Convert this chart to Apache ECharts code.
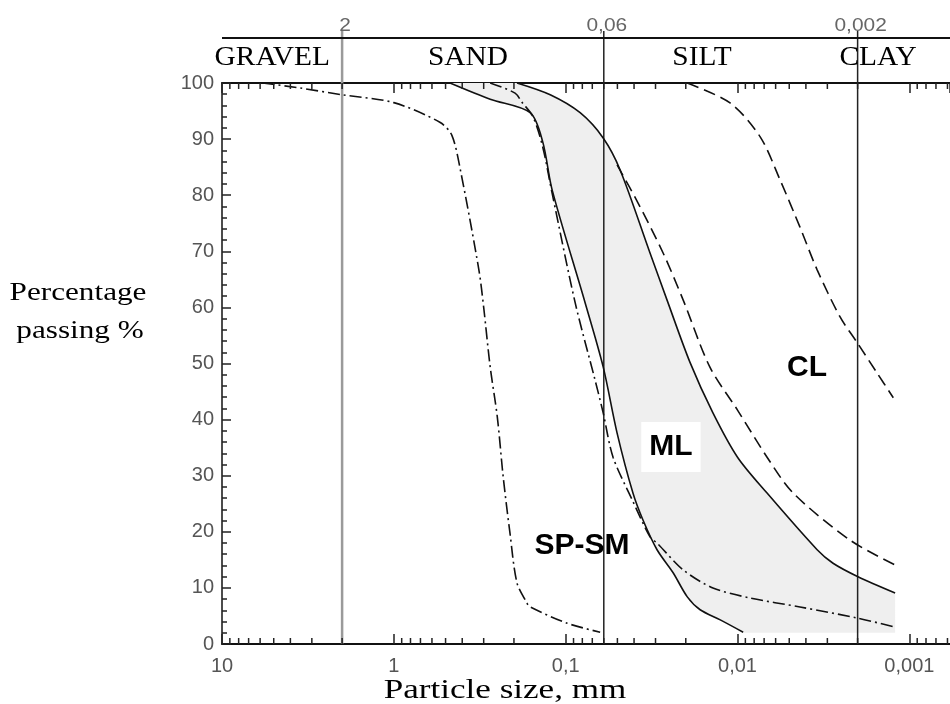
<!DOCTYPE html>
<html>
<head>
<meta charset="utf-8">
<title>Grading curves</title>
<script src="https://cdn.jsdelivr.net/npm/echarts@6/dist/echarts.min.js"></script>
<style>
  html, body { margin: 0; padding: 0; background: #fff; }
  #main { width: 950px; height: 704px; }
</style>
</head>
<body>
<div id="main"></div>
<script>
// particle size (mm) against percentage passing
var gravellySand = [[5.8,100],[3.5,99.1],[2,97.9],[1,96.5],[0.54,93],[0.46,90.7],[0.41,84.5],[0.32,66.7],[0.30,60],[0.275,49.4],[0.25,40.5],[0.231,29.8],[0.211,19.8],[0.192,10.9],[0.168,7.3],[0.161,6.6],[0.098,3.7],[0.063,2.1]];
var spSm = [[0.275,100],[0.197,98.2],[0.18,96.6],[0.155,94],[0.136,88.6],[0.12,80.4],[0.088,60.8],[0.0675,47.1],[0.0605,41.2],[0.053,33.3],[0.041,25.7],[0.0323,19.1],[0.0294,18],[0.0207,13.2],[0.0139,10],[0.00845,8.2],[0.00433,6.6],[0.00199,4.6],[0.00121,3.0]];
var mlLower = [[0.471,100],[0.275,97.1],[0.161,94.7],[0.136,89.5],[0.12,81],[0.077,60.8],[0.0605,49.4],[0.0502,37.6],[0.0406,26.9],[0.0355,22.1],[0.0294,16.8],[0.0237,12.7],[0.0196,8.4],[0.0165,6.1],[0.0126,4.3],[0.00927,2.1]];
var mlUpper = [[0.192,100],[0.123,97.9],[0.0824,94.7],[0.0605,90.2],[0.0482,84.5],[0.0323,69.7],[0.0257,61.3],[0.0189,50.2],[0.0139,41.2],[0.01,33.3],[0.00673,26.9],[0.00344,16.8],[0.00278,14.4],[0.00199,12],[0.00121,9.1]];
var mlDashed = [[0.0502,85.4],[0.0379,78.6],[0.0271,69.7],[0.0207,61.3],[0.0145,49.4],[0.01,41.7],[0.00673,33.3],[0.00474,26.9],[0.00221,18.5],[0.00121,14.1]];
var clDashed = [[0.0196,100],[0.011,96.4],[0.00738,90.4],[0.00565,82.7],[0.00433,74.3],[0.00344,66.7],[0.00253,58.3],[0.00201,53.7],[0.00154,48.3],[0.00124,43.9]];
// bottom edge of the shaded ML band
var bandBottom = [[0.00121,2],[0.00927,2]];

// size classes on top
var boundaryValues = [2, 0.06, 0.002];
var boundaryLabels = ['2', '0,06', '0,002'];
var zoneNames = ['GRAVEL', 'SAND', 'SILT', 'CLAY'];
var zoneLabelAt = [5.1, 0.37, 0.0161, 0.00152];

// curve names inside the plot
var soilNames = ['ML', 'CL', 'SP-SM'];
var soilAt = [[0.0244,35.1],[0.00394,49.2],[0.0804,17.6]];

var xMin = 0.00058, xMax = 10;
var minorMultipliers = [2,3,4,5,6,7,8,9];
var decades = [0.0001, 0.001, 0.01, 0.1, 1];

var serif = '"Liberation Serif", "Times New Roman", serif';
var sans = '"Liberation Sans", Arial, sans-serif';

function sizeLabel(v) {
    var lg = Math.log(v) / Math.LN10;
    var r = Math.round(lg);
    if (Math.abs(lg - r) > 1e-6) return '';
    if (r >= 0) return String(Math.round(v));
    return v.toFixed(-r).replace('.', ',');
}

var minorTicks = [];
decades.forEach(function (d) {
    minorMultipliers.forEach(function (m) {
        var v = m * d;
        if (v > xMin && v < xMax) minorTicks.push([v, 0]);
    });
});

function curve(name, data, type) {
    return {
        name: name,
        type: 'line',
        data: data,
        symbol: 'none',
        smooth: 0.3,
        z: 3,
        silent: true,
        lineStyle: { color: '#111', width: 1.6, type: type }
    };
}

var chart = echarts.init(document.getElementById('main'));
var option = {
    animation: false,
    backgroundColor: '#fff',
    grid: { left: 222, right: 0, top: 83, bottom: 60 },
    xAxis: [{
        type: 'log',
        inverse: true,
        min: xMin,
        max: xMax,
        axisLine: { lineStyle: { color: '#111', width: 2 } },
        axisTick: { inside: true, length: 10, lineStyle: { color: '#222', width: 1.5 } },
        axisLabel: {
            formatter: sizeLabel, showMinLabel: false,
            fontFamily: sans, fontSize: 20, color: '#555', margin: 12
        },
        splitLine: { show: false }
    }, {
        type: 'log',
        inverse: true,
        position: 'top',
        min: xMin,
        max: xMax,
        axisLine: { lineStyle: { color: '#111', width: 2 } },
        axisTick: { inside: true, length: 10, lineStyle: { color: '#222', width: 1.5 } },
        axisLabel: { show: false },
        splitLine: { show: false }
    }],
    yAxis: {
        type: 'value',
        min: 0,
        max: 100,
        interval: 10,
        axisLine: { show: true, lineStyle: { color: '#111', width: 1.5 } },
        axisTick: { inside: true, length: 9, lineStyle: { color: '#222', width: 1.5 } },
        minorTick: { show: true, splitNumber: 5, length: 5, lineStyle: { color: '#222', width: 1.5 } },
        axisLabel: { fontFamily: sans, fontSize: 20, color: '#555', margin: 8 },
        splitLine: { show: false }
    },
    series: [
        {
            // shaded ML band; corner points doubled so they stay sharp
            type: 'custom',
            silent: true,
            z: 1,
            data: [[mlUpper[0][0], 100]],
            renderItem: function (params, api) {
                var pts = [];
                function add(list) {
                    list.forEach(function (p, i) {
                        var c = api.coord(p);
                        pts.push(c);
                        if (i === 0 || i === list.length - 1) pts.push(c);
                    });
                }
                add(mlUpper);
                add(bandBottom);
                add(mlLower.slice().reverse());
                return { type: 'polygon', shape: { points: pts, smooth: 0.3 }, style: { fill: '#efefef' } };
            }
        },
        {
            // minor log ticks, bottom and top
            type: 'custom',
            silent: true,
            z: 4,
            data: minorTicks,
            renderItem: function (params, api) {
                var b = api.coord([api.value(0), 0]);
                var t = api.coord([api.value(0), 100]);
                var st = { stroke: '#222', lineWidth: 1.5 };
                return { type: 'group', children: [
                    { type: 'line', shape: { x1: b[0], y1: b[1], x2: b[0], y2: b[1] - 6 }, style: st },
                    { type: 'line', shape: { x1: t[0], y1: t[1], x2: t[0], y2: t[1] + 6 }, style: st }
                ] };
            }
        },
        {
            // size class boundaries
            type: 'custom',
            silent: true,
            clip: false,
            z: 2,
            data: boundaryValues.map(function (v) { return [v, 0]; }),
            renderItem: function (params, api) {
                var i = params.dataIndex;
                var t = api.coord([api.value(0), 100]);
                var b = api.coord([api.value(0), 0]);
                return { type: 'group', children: [
                    { type: 'line', shape: { x1: t[0], y1: t[1] - 52, x2: b[0], y2: b[1] },
                      style: { stroke: i === 0 ? '#9a9a9a' : '#222', lineWidth: i === 0 ? 2.5 : 1.5 } },
                    { type: 'text', x: t[0] + 3, y: t[1] - 57, scaleX: 1.1,
                      style: { text: boundaryLabels[i], font: '19px ' + sans, fill: '#666',
                               align: 'center', verticalAlign: 'middle', textAlign: 'center', textVerticalAlign: 'middle' } }
                ] };
            }
        },
        {
            // size class names and top rule
            type: 'custom',
            silent: true,
            clip: false,
            z: 2,
            data: zoneLabelAt.map(function (v) { return [v, 100]; }),
            renderItem: function (params, api) {
                var p = api.coord([api.value(0), 100]);
                var kids = [
                    { type: 'text', x: p[0], y: p[1] - 25, scaleX: 1.05,
                      style: { text: zoneNames[params.dataIndex], font: '28px ' + serif, fill: '#000',
                               align: 'center', verticalAlign: 'middle', textAlign: 'center', textVerticalAlign: 'middle' } }
                ];
                if (params.dataIndex === 0) {
                    var a = api.coord([xMax, 100]);
                    var c = api.coord([xMin, 100]);
                    kids.push({ type: 'line', shape: { x1: a[0], y1: a[1] - 45, x2: c[0], y2: c[1] - 45 },
                                style: { stroke: '#111', lineWidth: 2 } });
                }
                return { type: 'group', children: kids };
            }
        },
        curve('gravelly sand', gravellySand, [12, 4, 2, 4]),
        curve('SP-SM', spSm, [12, 4, 2, 4]),
        curve('ML lower', mlLower, 'solid'),
        curve('ML upper', mlUpper, 'solid'),
        curve('ML dashed', mlDashed, [12, 6]),
        curve('CL', clDashed, [12, 6]),
        {
            type: 'scatter',
            silent: true,
            z: 6,
            symbolSize: 1,
            itemStyle: { color: 'rgba(0,0,0,0)', opacity: 1 },
            label: {
                show: true, position: 'inside', formatter: '{b}', opacity: 1,
                fontFamily: sans, fontSize: 30, fontWeight: 'bold', color: '#000'
            },
            data: soilNames.map(function (n, i) {
                var item = { name: n, value: soilAt[i] };
                if (n === 'ML') item.label = { backgroundColor: '#fff', padding: [10, 8] };
                return item;
            })
        }
    ],
    graphic: [
        { type: 'text', x: 78, y: 293, scaleX: 1.2, z: 10,
          style: { text: 'Percentage', font: '26px ' + serif, fill: '#000',
                   align: 'center', verticalAlign: 'middle', textAlign: 'center', textVerticalAlign: 'middle' } },
        { type: 'text', x: 80, y: 331, scaleX: 1.2, z: 10,
          style: { text: 'passing %', font: '26px ' + serif, fill: '#000',
                   align: 'center', verticalAlign: 'middle', textAlign: 'center', textVerticalAlign: 'middle' } },
        { type: 'text', x: 505, y: 691, scaleX: 1.3, z: 10,
          style: { text: 'Particle size, mm', font: '27px ' + serif, fill: '#000',
                   align: 'center', verticalAlign: 'middle', textAlign: 'center', textVerticalAlign: 'middle' } }
    ]
};
chart.setOption(option);
</script>
</body>
</html>
